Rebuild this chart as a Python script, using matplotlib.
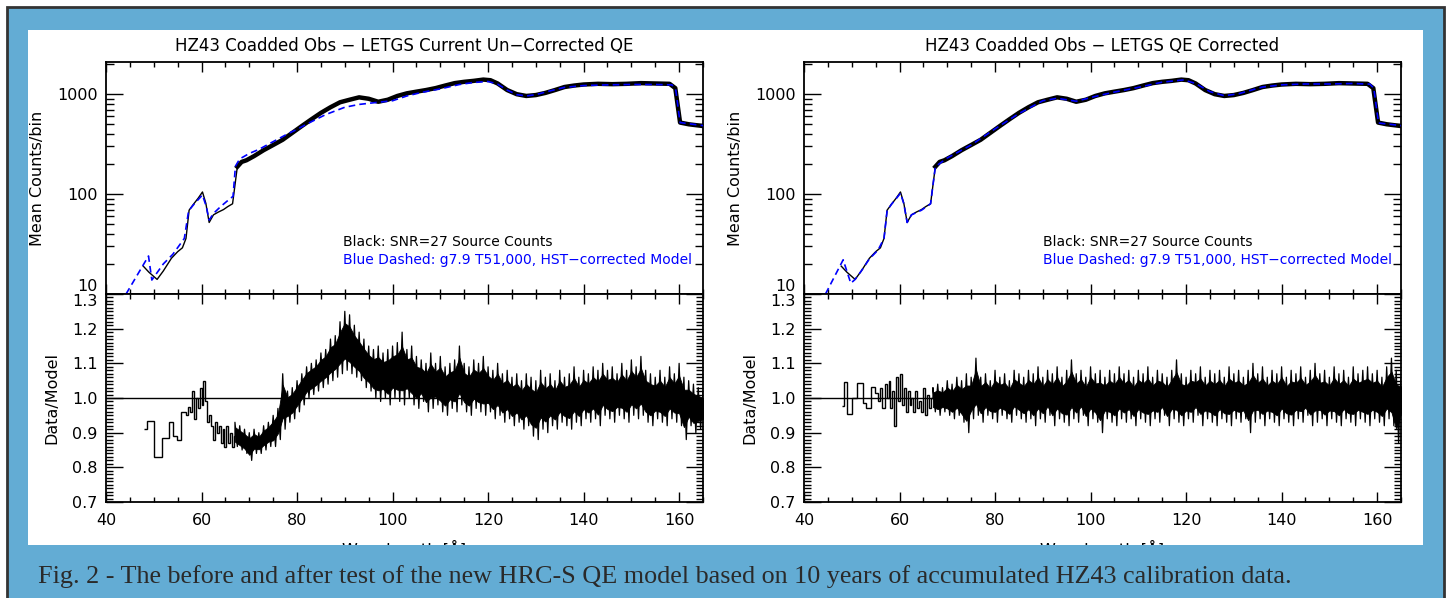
import matplotlib
matplotlib.use('Agg')
import matplotlib.pyplot as plt
from matplotlib.patches import Rectangle
from matplotlib.ticker import MultipleLocator, LogLocator, NullFormatter
import numpy as np

# ---- data ----
# coadded HZ43 counts (same data in both panels)
data_wave = [47.8, 49.0, 50.7, 52.0, 53.7, 55.0, 56.0, 56.75, 57.4, 58.3, 59.3, 60.2, 60.9,
             61.6, 62.5, 63.5, 64.6, 65.5, 66.5, 67.5, 68.4, 69.4, 71, 73, 75, 77, 79, 81,
             83, 85, 87, 89, 91, 93, 95, 97, 99, 101, 103, 105, 107, 109, 111, 113, 115,
             117, 119, 120.5, 122, 124, 126, 128, 130, 132, 134, 136, 138, 140, 143, 146,
             149, 152, 155, 158, 159.2, 160.2, 162, 165]
data_counts = [19, 16.5, 14, 17, 22.8, 26.5, 29, 36, 69, 79, 91, 105, 81,
               52, 62, 66, 70, 75, 80, 188, 210, 218, 240, 275, 310, 350, 410, 480,
               560, 650, 740, 830, 880, 930, 900, 840, 880, 960, 1020, 1060, 1100, 1150, 1220, 1290, 1330,
               1360, 1400, 1380, 1280, 1100, 1000, 960, 980, 1030, 1100, 1180, 1220, 1250, 1270, 1260,
               1270, 1290, 1280, 1270, 1150, 520, 500, 480]

# un-corrected QE model (left)
model_l_wave = [44.2, 48.9, 49.6, 52.0, 54, 56.4, 57.3, 58.5, 60.2, 61.0, 61.6, 62.5, 64, 65.6,
                66.6, 67.1, 68, 70, 72, 75, 78, 80, 83, 86, 90, 93, 96, 100, 103, 106, 110,
                114, 117, 120, 122, 124, 126, 128, 130, 133, 136, 140, 145, 150, 155, 158.5,
                159.3, 160.2, 165]
model_l_counts = [10, 24, 13.8, 20, 25, 36, 68, 80, 98, 75, 55, 64, 75, 87,
                  95, 190, 225, 255, 280, 335, 400, 445, 530, 625, 740, 790, 820, 860, 960, 1040, 1130,
                  1250, 1310, 1340, 1260, 1100, 990, 960, 990, 1080, 1170, 1220, 1240, 1250, 1250, 1240,
                  1100, 520, 485]

# corrected QE model (right)
model_r_wave = [44.5, 48.2, 49.8, 50.7, 52, 53.7, 55.5, 56.75, 57.4, 58.3, 59.3, 60.2, 60.9,
                61.6, 62.5, 64.6, 66.5, 67.5, 70, 75, 80, 85, 90, 93, 97, 101, 105, 110, 115,
                119.5, 122, 125, 128, 131, 136, 140, 145, 150, 155, 158.5, 159.3, 160.3, 165]
model_r_counts = [10, 22, 12.8, 14, 17, 22.5, 27.5, 36, 68, 79, 90, 102, 80,
                  52, 62, 69, 80, 188, 230, 310, 450, 640, 860, 910, 850, 950, 1050, 1170, 1320,
                  1390, 1280, 1060, 965, 1010, 1180, 1240, 1265, 1265, 1280, 1260, 1150, 515, 485]

# data/model, coarse bins at short wavelength
steps_l_edges = [48.0, 48.5, 50.1, 51.7, 53.1, 54.1, 54.8, 55.7, 56.7, 57.2, 57.6, 58.0, 58.4,
                 58.8, 59.2, 59.6, 60.0, 60.4, 60.8, 61.2, 61.6, 62.0, 62.4, 62.8, 63.2, 63.6,
                 64.0, 64.4, 64.8, 65.2, 65.6, 66.0, 66.4, 66.8, 67.0]
steps_l_ratio = [0.91, 0.935, 0.83, 0.884, 0.932, 0.891, 0.88, 0.96, 0.95, 0.975, 0.96, 1.02,
                 0.94, 1.0, 0.97, 1.03, 0.98, 1.05, 0.99, 0.93, 0.95, 0.92, 0.88, 0.93, 0.90,
                 0.92, 0.87, 0.91, 0.86, 0.92, 0.87, 0.90, 0.86, 0.89]
steps_r_edges = [47.9, 48.4, 49.1, 50.1, 51.2, 52.4, 53.0, 54.0, 54.8, 55.4, 55.9, 56.4, 56.9,
                 57.3, 57.7, 58.1, 58.5, 58.9, 59.3, 59.7, 60.1, 60.5, 60.9, 61.3, 61.7, 62.1,
                 62.5, 62.9, 63.3, 63.7, 64.1, 64.5, 64.9, 65.3, 65.7, 66.1, 66.5, 67.0]
steps_r_ratio = [0.977, 1.047, 0.953, 1.0, 1.042, 0.987, 0.97, 1.033, 1.013, 0.99, 1.03, 0.97,
                 1.04, 1.0, 1.05, 0.97, 1.02, 0.92, 1.06, 0.99, 1.07, 0.98, 1.03, 0.96, 1.02,
                 0.98, 1.0, 0.96, 1.02, 0.97, 0.99, 0.96, 1.03, 0.95, 1.01, 0.97, 1.0]

# data/model, fine bins: upper / lower extent of the scatter per 1 A (67..165)
band_wave = list(range(67, 166))
band_l_hi = [0.93, 0.92, 0.91, 0.90, 0.91, 0.90, 0.92, 0.93, 0.95, 0.97, 1.07, 1.02, 1.03, 1.05,
             1.07, 1.09, 1.10, 1.11, 1.13, 1.14, 1.17, 1.18, 1.22, 1.25, 1.24, 1.21, 1.19, 1.17,
             1.15, 1.14, 1.15, 1.13, 1.14, 1.15, 1.16, 1.19, 1.14, 1.15, 1.12, 1.11, 1.10, 1.13,
             1.10, 1.12, 1.09, 1.10, 1.11, 1.15, 1.10, 1.09, 1.11, 1.10, 1.12, 1.09, 1.08, 1.10,
             1.07, 1.08, 1.06, 1.07, 1.05, 1.07, 1.06, 1.05, 1.08, 1.06, 1.07, 1.05, 1.08, 1.06,
             1.07, 1.09, 1.06, 1.08, 1.07, 1.09, 1.08, 1.10, 1.08, 1.09, 1.07, 1.10, 1.08, 1.11,
             1.09, 1.12, 1.08, 1.07, 1.06, 1.08, 1.06, 1.09, 1.07, 1.10, 1.06, 1.05, 1.04, 1.03,
             1.02]
band_l_lo = [0.86, 0.85, 0.84, 0.82, 0.84, 0.84, 0.85, 0.86, 0.86, 0.88, 0.91, 0.93, 0.94, 0.96,
             0.98, 1.00, 1.01, 1.02, 1.03, 1.04, 1.05, 1.06, 1.07, 1.08, 1.07, 1.06, 1.05, 1.03,
             1.02, 1.00, 0.99, 1.00, 0.98, 1.00, 0.99, 0.98, 1.00, 0.98, 0.97, 0.99, 0.96, 0.97,
             0.98, 0.96, 0.95, 0.97, 0.96, 0.98, 0.96, 0.95, 0.97, 0.96, 0.95, 0.96, 0.94, 0.95,
             0.93, 0.94, 0.92, 0.93, 0.91, 0.92, 0.89, 0.88, 0.91, 0.90, 0.92, 0.91, 0.93, 0.92,
             0.91, 0.93, 0.92, 0.94, 0.93, 0.94, 0.92, 0.95, 0.94, 0.93, 0.95, 0.94, 0.93, 0.95,
             0.94, 0.95, 0.93, 0.92, 0.94, 0.93, 0.92, 0.94, 0.93, 0.92, 0.88, 0.92, 0.90, 0.91,
             0.92]
band_r_hi = [1.03, 1.04, 1.03, 1.05, 1.04, 1.06, 1.05, 1.07, 1.06, 1.115, 1.06, 1.07, 1.05, 1.08,
             1.06, 1.07, 1.05, 1.08, 1.07, 1.06,
             1.08, 1.07, 1.09, 1.06, 1.08, 1.07, 1.09, 1.06, 1.08, 1.11, 1.07, 1.08, 1.06, 1.09,
             1.07, 1.08, 1.06, 1.08, 1.07, 1.09,
             1.07, 1.08, 1.06, 1.08, 1.07, 1.09, 1.06, 1.08, 1.07, 1.06, 1.08, 1.11, 1.07, 1.06,
             1.08, 1.07, 1.09, 1.06, 1.08, 1.07,
             1.08, 1.06, 1.09, 1.07, 1.08, 1.06, 1.08, 1.10, 1.07, 1.09, 1.06, 1.08, 1.07, 1.09,
             1.06, 1.08, 1.07, 1.09, 1.06, 1.08,
             1.10, 1.07, 1.08, 1.06, 1.09, 1.07, 1.08, 1.06, 1.09, 1.07, 1.08, 1.09, 1.07, 1.08,
             1.06, 1.09, 1.115, 1.08, 1.06]
band_r_lo = [0.96, 0.95, 0.96, 0.95, 0.94, 0.95, 0.93, 0.90, 0.94, 0.95, 0.93, 0.95, 0.94, 0.93,
             0.95, 0.94, 0.93, 0.95, 0.94, 0.93,
             0.94, 0.92, 0.94, 0.93, 0.95, 0.92, 0.94, 0.93, 0.92, 0.94, 0.93, 0.95, 0.92, 0.94,
             0.93, 0.90, 0.94, 0.93, 0.92, 0.94,
             0.93, 0.94, 0.92, 0.94, 0.93, 0.92, 0.94, 0.93, 0.95, 0.92, 0.94, 0.93, 0.92, 0.94,
             0.93, 0.95, 0.92, 0.94, 0.93, 0.92,
             0.94, 0.93, 0.92, 0.94, 0.93, 0.94, 0.90, 0.93, 0.94, 0.92, 0.94, 0.93, 0.92, 0.94,
             0.93, 0.92, 0.94, 0.93, 0.95, 0.92,
             0.93, 0.94, 0.92, 0.94, 0.93, 0.92, 0.94, 0.93, 0.92, 0.94, 0.93, 0.92, 0.94, 0.93,
             0.92, 0.94, 0.92, 0.87, 0.93]

titles = ['HZ43 Coadded Obs \u2212 LETGS Current Un\u2212Corrected QE',
          'HZ43 Coadded Obs \u2212 LETGS QE Corrected']
caption = ('Fig. 2 - The before and after test of the new HRC-S QE model based on '
           '10 years of accumulated HZ43 calibration data.')

BLUE_BG = '#63acd4'
W, H = 1451, 598

fig = plt.figure(figsize=(W / 100, H / 100), dpi=100, facecolor='white')

# frame, white panel
fig.patches.append(Rectangle((7 / W, -0.05), 1437 / W, 1.05 - 7 / H, transform=fig.transFigure,
                             facecolor=BLUE_BG, edgecolor='#333333', lw=2, zorder=-3))
fig.patches.append(Rectangle((28 / W, 1 - 545 / H), 1395 / W, 515 / H, transform=fig.transFigure,
                             facecolor='white', edgecolor='none', zorder=-2))
# caption band covers bottom of the panel (clips the x label like the reference)
fig.patches.append(Rectangle((8.5 / W, 0), 1434 / W, 1 - 545 / H, transform=fig.transFigure,
                             facecolor=BLUE_BG, edgecolor='none', zorder=5))
fig.text(38 / W, 1 - 577 / H, caption, family='Liberation Serif', fontsize=18.8,
         color='#2a2a2a', va='center', ha='left', zorder=6)

plt.rcParams['font.family'] = 'DejaVu Sans'


def style_axis(ax):
    ax.tick_params(which='both', direction='in', top=True, right=True, labelsize=11.5,
                   width=1.0, color='black')
    ax.tick_params(axis='x', which='major', length=7, pad=8)
    ax.tick_params(axis='x', which='minor', length=3.5)
    for s in ax.spines.values():
        s.set_linewidth(1.3)


lefts = [106 / W, 804 / W]
width = 597 / W
models = [(model_l_wave, model_l_counts), (model_r_wave, model_r_counts)]
steps = [(steps_l_edges, steps_l_ratio), (steps_r_edges, steps_r_ratio)]
bands = [(band_l_hi, band_l_lo), (band_r_hi, band_r_lo)]
text_x = [89.6, 90.0]

dw = np.array(data_wave)
dc = np.array(data_counts)

for i in range(2):
    top = fig.add_axes([lefts[i], 1 - 294 / H, width, 232 / H])
    bot = fig.add_axes([lefts[i], 1 - 502 / H, width, 208 / H], sharex=top)

    # counts
    thin = dw <= 67.5
    thick = dw >= 67.5
    top.plot(dw[thin], dc[thin], color='black', lw=1.0, zorder=2)
    top.plot(dw[thick], dc[thick], color='black', lw=3.2, zorder=2)
    top.plot(models[i][0], models[i][1], color='#0000ff', lw=1.2,
             linestyle=(0, (4, 2.5)), zorder=3)
    top.set_yscale('log')
    top.set_ylim(10, 2100)
    top.set_xlim(40, 165)
    top.yaxis.set_minor_locator(LogLocator(base=10, subs=np.arange(2, 10), numticks=20))
    top.yaxis.set_minor_formatter(NullFormatter())
    top.set_yticks([10, 100, 1000])
    top.set_yticklabels(['10', '100', '1000'])
    style_axis(top)
    top.tick_params(axis='y', which='major', length=12, pad=6)
    top.tick_params(axis='y', which='minor', length=6)
    top.tick_params(axis='x', labelbottom=False)
    top.xaxis.set_major_locator(MultipleLocator(20))
    top.xaxis.set_minor_locator(MultipleLocator(5))
    top.set_ylabel('Mean Counts/bin', fontsize=11.5, labelpad=9)
    top.set_title(titles[i], fontsize=12, pad=8)
    top.text(text_x[i], 33, 'Black: SNR=27 Source Counts', fontsize=10, color='black',
             va='center')
    top.text(text_x[i], 21.9, 'Blue Dashed: g7.9 T51,000, HST\u2212corrected Model', fontsize=10,
             color='#0000ff', va='center')
    # "10" sits just above the panel join, as in the reference
    top.yaxis.get_major_ticks()[0].label1.set_va('bottom')

    # ratio
    bot.stairs(steps[i][1], steps[i][0], color='black', lw=1.0, baseline=None)
    hi = np.array(bands[i][0])
    lo = np.array(bands[i][1])
    # dense core of the scatter, then the individual excursions as a zigzag
    span = hi - lo
    bot.fill_between(band_wave, lo + 0.2 * span, hi - 0.2 * span, color='black', lw=0.6,
                     edgecolor='black')
    zx, zy = [steps[i][0][-1]], [steps[i][1][-1]]
    for w, h, l in zip(band_wave, hi, lo):
        zx += [w, w + 0.5]
        zy += [h, l]
    bot.plot(zx, zy, color='black', lw=0.9)
    bot.axhline(1.0, color='black', lw=1.0)
    bot.set_ylim(0.7, 1.3)
    bot.set_xlim(40, 165)
    bot.set_yticks([0.7, 0.8, 0.9, 1.0, 1.1, 1.2, 1.3])
    bot.yaxis.set_minor_locator(MultipleLocator(0.01))
    bot.yaxis.set_major_formatter(plt.FormatStrFormatter('%.1f'))
    style_axis(bot)
    bot.tick_params(axis='y', which='major', length=12, pad=6)
    bot.tick_params(axis='y', which='minor', length=5)
    bot.set_ylabel('Data/Model', fontsize=11.5, labelpad=9)
    bot.set_xlabel('Wavelength [\u00c5]', fontsize=11.5, labelpad=8.5)
    bot.yaxis.get_major_ticks()[-1].label1.set_va('top')

fig.savefig('out.png', dpi=100, facecolor=fig.get_facecolor())
